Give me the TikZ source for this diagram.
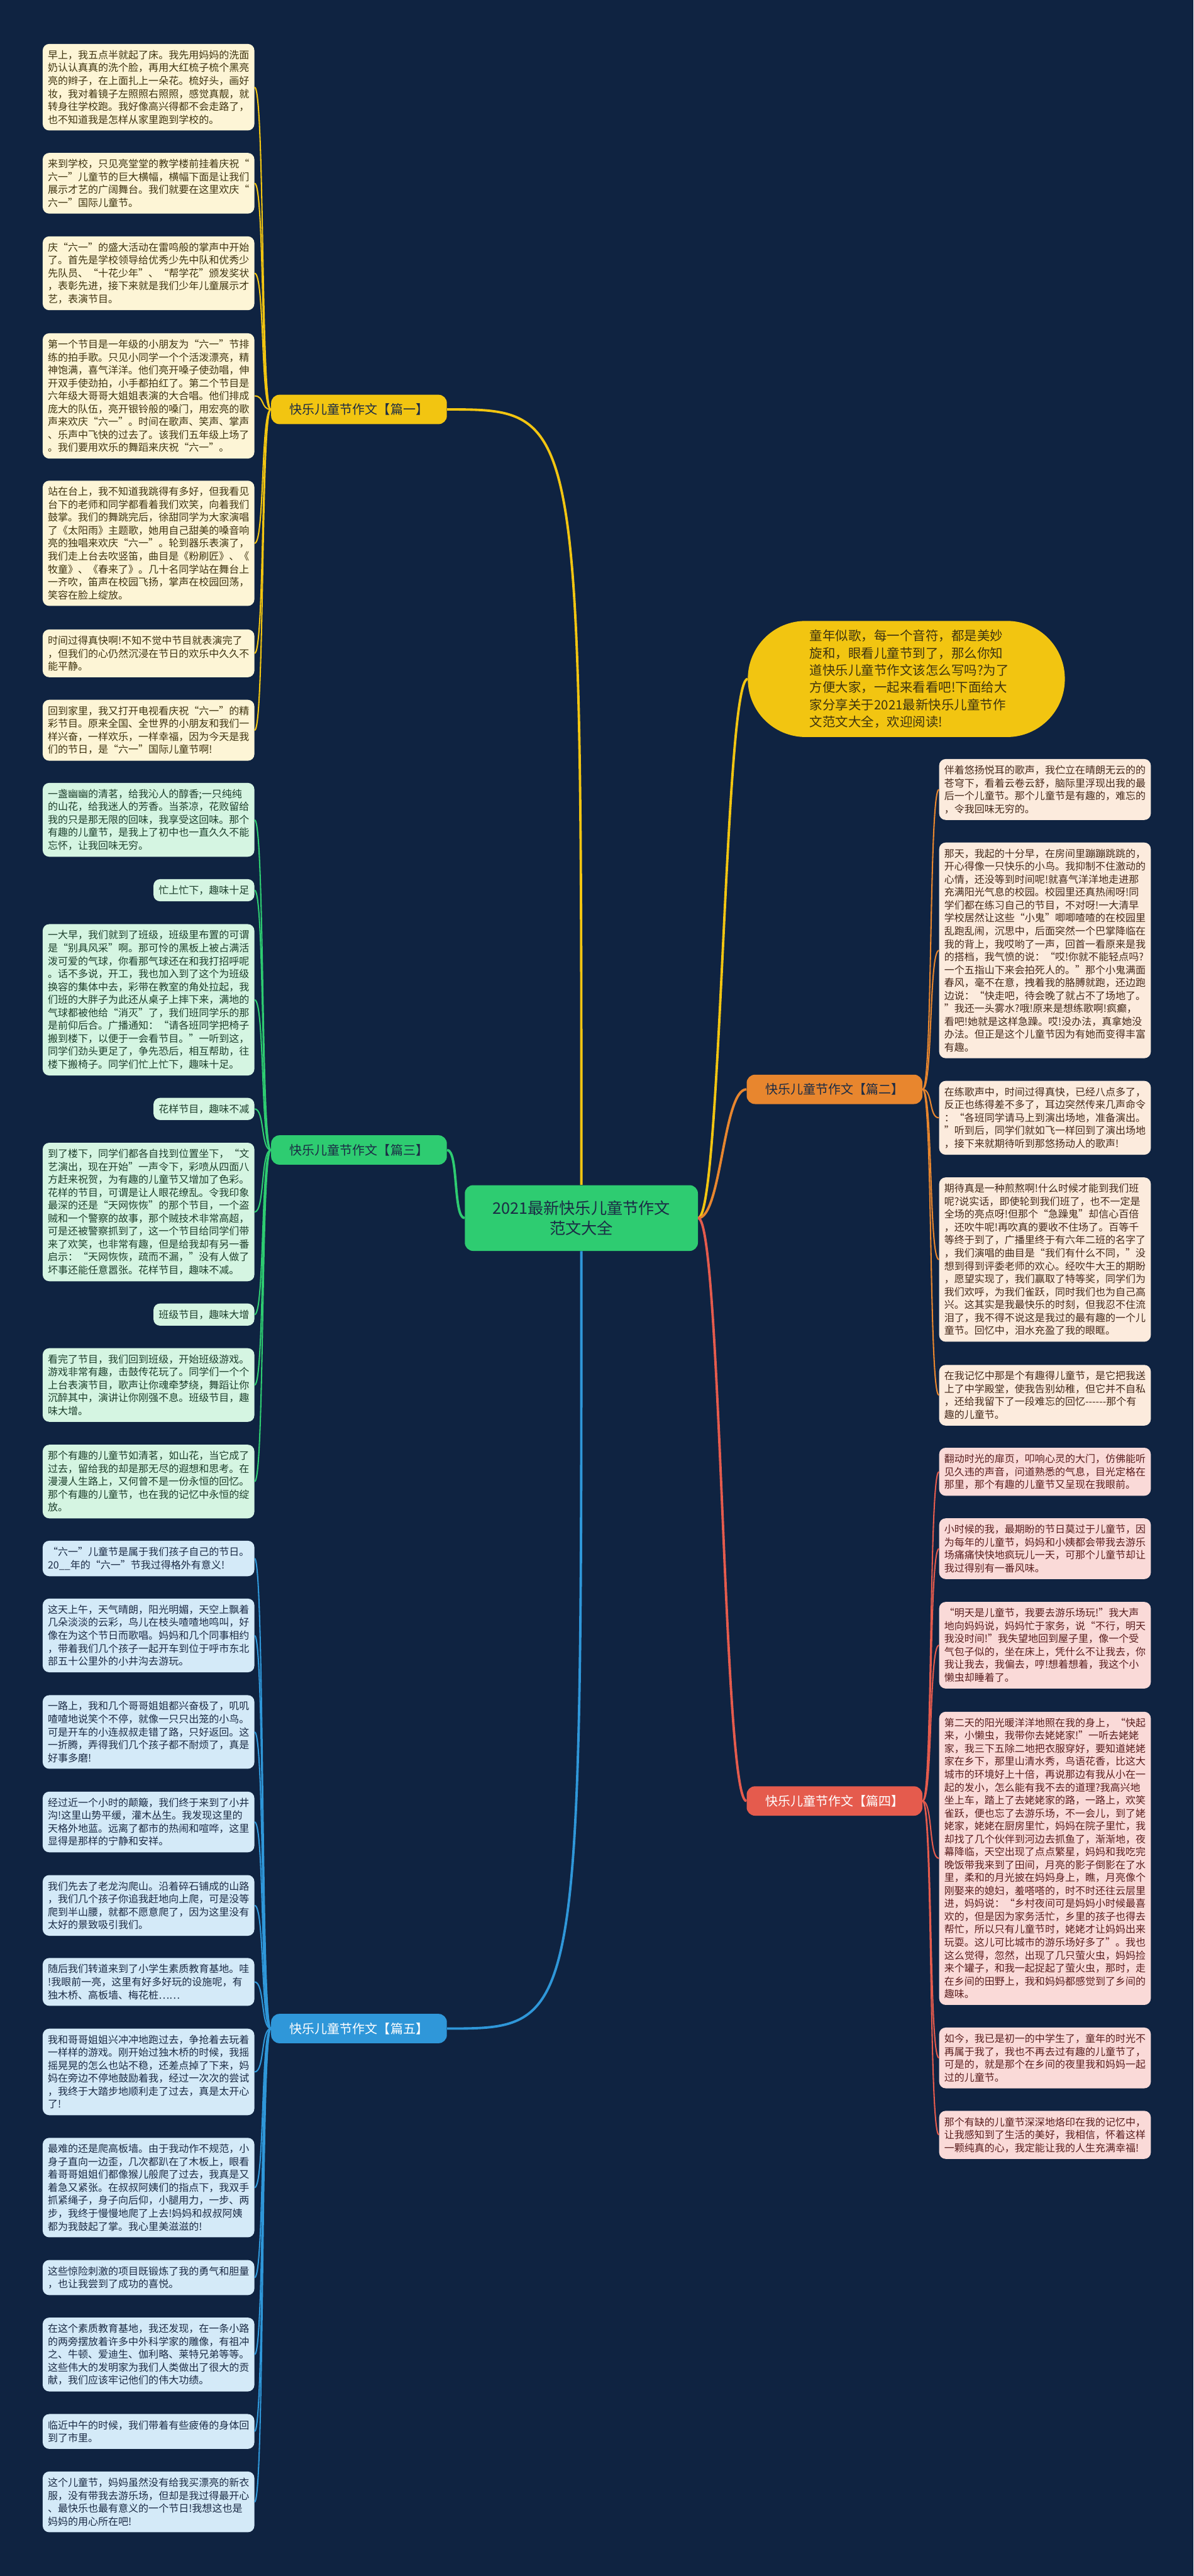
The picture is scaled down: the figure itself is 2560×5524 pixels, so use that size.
\documentclass[tikz,border=0pt]{standalone}
\usepackage{fontspec}
\setmainfont{Noto Sans CJK SC}
\usetikzlibrary{positioning}
\definecolor{navy}{HTML}{0F2341}
\definecolor{cyel}{HTML}{F2C511}
\definecolor{corg}{HTML}{E8862E}
\definecolor{cgrn}{HTML}{2ECC71}
\definecolor{cred}{HTML}{E55B4D}
\definecolor{cblu}{HTML}{2F97D9}
\definecolor{fyel}{HTML}{FDF5D6}
\definecolor{forg}{HTML}{FCEBDD}
\definecolor{fgrn}{HTML}{D5F5E2}
\definecolor{fred}{HTML}{FADAD8}
\definecolor{fblu}{HTML}{D4EAF8}
\definecolor{tyel}{HTML}{3F3410}
\definecolor{torg}{HTML}{45291A}
\definecolor{tgrn}{HTML}{1D3F2C}
\definecolor{tred}{HTML}{5A1E1E}
\definecolor{tblu}{HTML}{1B2B45}
\newcommand\notefont{\fontsize{10.8pt}{13.85pt}\selectfont}
\newcommand\tagfont{\fontsize{13.5pt}{16pt}\selectfont}
\newcommand\hubfont{\fontsize{17pt}{22pt}\selectfont}
\newcommand\blurbfont{\fontsize{13.8pt}{18.5pt}\selectfont}
\tikzset{
  leaf/.style={rounded corners=7pt, text width=216pt, align=left, inner xsep=5.5pt, inner ysep=6.75pt, font=\notefont},
  stub/.style={rounded corners=7pt, inner xsep=5.5pt, inner ysep=6.75pt, font=\notefont},
  yelleaf/.style={leaf, fill=fyel, text=tyel, anchor=east},
  grnleaf/.style={leaf, fill=fgrn, text=tgrn, anchor=east},
  bluleaf/.style={leaf, fill=fblu, text=tblu, anchor=east},
  orgleaf/.style={leaf, fill=forg, text=torg, anchor=west},
  redleaf/.style={leaf, fill=fred, text=tred, anchor=west},
  branchtag/.style={rounded corners=9pt, minimum width=188.5pt, minimum height=31.5pt, inner sep=0pt, font=\tagfont},
  rootbox/.style={rounded corners=9pt, fill=cgrn, text=tblu, minimum width=250pt, minimum height=70.5pt, align=center, font=\hubfont},
  blurb/.style={rounded corners=62pt, fill=cyel, text=tyel, minimum width=340pt, minimum height=124.5pt, text width=207pt, align=left, font=\blurbfont},
  twig/.style={line width=1.4pt},
  bough/.style={line width=2.6pt},
}
\begin{document}
\begin{tikzpicture}[x=0.5pt,y=-0.5pt]
\fill[navy] (0,0) rectangle (2560,5524);
% centre, intro and the five branch tags
\node[rootbox] (hub) at (1247,2612) {2021最新快乐儿童节作文\\范文大全};
\node[blurb] (intro) at (1944,1456) {童年似歌，每一个音符，都是美妙\\旋和，眼看儿童节到了，那么你知\\道快乐儿童节作文该怎么写吗?为了\\方便大家，一起来看看吧!下面给大\\家分享关于2021最新快乐儿童节作\\文范文大全，欢迎阅读!};
\node[branchtag, fill=cyel, text=tblu] (t1) at (770,878) {快乐儿童节作文【篇一】};
\node[branchtag, fill=corg, text=tblu] (t2) at (1790,2336) {快乐儿童节作文【篇二】};
\node[branchtag, fill=cgrn, text=tblu] (t3) at (770,2466) {快乐儿童节作文【篇三】};
\node[branchtag, fill=cred, text=white] (t4) at (1790,3862) {快乐儿童节作文【篇四】};
\node[branchtag, fill=cblu, text=white] (t5) at (770,4350) {快乐儿童节作文【篇五】};

% 篇一
\node[yelleaf] (y1) at (546,187) {早上，我五点半就起了床。我先用妈妈的洗面\\奶认认真真的洗个脸，再用大红梳子梳个黑亮\\亮的辫子，在上面扎上一朵花。梳好头，画好\\妆，我对着镜子左照照右照照，感觉真靓，就\\转身往学校跑。我好像高兴得都不会走路了，\\也不知道我是怎样从家里跑到学校的。};
\node[yelleaf] (y2) at (546,393) {来到学校，只见亮堂堂的教学楼前挂着庆祝“\\六一”儿童节的巨大横幅，横幅下面是让我们\\展示才艺的广阔舞台。我们就要在这里欢庆“\\六一”国际儿童节。};
\node[yelleaf] (y3) at (546,586) {庆“六一”的盛大活动在雷鸣般的掌声中开始\\了。首先是学校领导给优秀少先中队和优秀少\\先队员、“十花少年”、“帮学花”颁发奖状\\，表彰先进，接下来就是我们少年儿童展示才\\艺，表演节目。};
\node[yelleaf] (y4) at (546,849) {第一个节目是一年级的小朋友为“六一”节排\\练的拍手歌。只见小同学一个个活泼漂亮，精\\神饱满，喜气洋洋。他们亮开嗓子使劲唱，伸\\开双手使劲拍，小手都拍红了。第二个节目是\\六年级大哥哥大姐姐表演的大合唱。他们排成\\庞大的队伍，亮开银铃般的嗓门，用宏亮的歌\\声来欢庆“六一”。时间在歌声、笑声、掌声\\、乐声中飞快的过去了。该我们五年级上场了\\。我们要用欢乐的舞蹈来庆祝“六一”。};
\node[yelleaf] (y5) at (546,1165) {站在台上，我不知道我跳得有多好，但我看见\\台下的老师和同学都看着我们欢笑，向着我们\\鼓掌。我们的舞跳完后，徐甜同学为大家演唱\\了《太阳雨》主题歌，她用自己甜美的嗓音响\\亮的独唱来欢庆“六一”。轮到器乐表演了，\\我们走上台去吹竖笛，曲目是《粉刷匠》、《\\牧童》、《春来了》。几十名同学站在舞台上\\一齐吹，笛声在校园飞扬，掌声在校园回荡，\\笑容在脸上绽放。};
\node[yelleaf] (y6) at (546,1401) {时间过得真快啊!不知不觉中节目就表演完了\\，但我们的心仍然沉浸在节日的欢乐中久久不\\能平静。};
\node[yelleaf] (y7) at (546,1566) {回到家里，我又打开电视看庆祝“六一”的精\\彩节目。原来全国、全世界的小朋友和我们一\\样兴奋，一样欢乐，一样幸福，因为今天是我\\们的节日，是“六一”国际儿童节啊!};

% 篇三
\node[grnleaf] (g1) at (546,1758) {一盏幽幽的清茗，给我沁人的醇香;一只纯纯\\的山花，给我迷人的芳香。当茶凉，花败留给\\我的只是那无限的回味，我享受这回味。那个\\有趣的儿童节，是我上了初中也一直久久不能\\忘怀，让我回味无穷。};
\node[stub, fill=fgrn, text=tgrn, anchor=east] (g2) at (546,1909) {忙上忙下，趣味十足};
\node[grnleaf] (g3) at (546,2144) {一大早，我们就到了班级，班级里布置的可谓\\是“别具风采”啊。那可怜的黑板上被占满活\\泼可爱的气球，你看那气球还在和我打招呼呢\\。话不多说，开工，我也加入到了这个为班级\\换容的集体中去，彩带在教室的角处拉起，我\\们班的大胖子为此还从桌子上摔下来，满地的\\气球都被他给“消灭”了，我们班同学乐的那\\是前仰后合。广播通知：“请各班同学把椅子\\搬到楼下，以便于一会看节目。”一听到这，\\同学们劲头更足了，争先恐后，相互帮助，往\\楼下搬椅子。同学们忙上忙下，趣味十足。};
\node[stub, fill=fgrn, text=tgrn, anchor=east] (g4) at (546,2378) {花样节目，趣味不减};
\node[grnleaf] (g5) at (546,2599) {到了楼下，同学们都各自找到位置坐下，“文\\艺演出，现在开始”一声令下，彩喷从四面八\\方赶来祝贺，为有趣的儿童节又增加了色彩。\\花样的节目，可谓是让人眼花缭乱。令我印象\\最深的还是“天网恢恢”的那个节目，一个盗\\贼和一个警察的故事，那个贼技术非常高超，\\可是还被警察抓到了，这一个节目给同学们带\\来了欢笑，也非常有趣，但是给我却有另一番\\启示：“天网恢恢，疏而不漏，”没有人做了\\坏事还能任意嚣张。花样节目，趣味不减。};
\node[stub, fill=fgrn, text=tgrn, anchor=east] (g6) at (546,2819) {班级节目，趣味大增};
\node[grnleaf] (g7) at (546,2970) {看完了节目，我们回到班级，开始班级游戏。\\游戏非常有趣，击鼓传花玩了。同学们一个个\\上台表演节目，歌声让你魂牵梦绕，舞蹈让你\\沉醉其中，演讲让你刚强不息。班级节目，趣\\味大增。};
\node[grnleaf] (g8) at (546,3177) {那个有趣的儿童节如清茗，如山花，当它成了\\过去，留给我的却是那无尽的遐想和思考。在\\漫漫人生路上，又何曾不是一份永恒的回忆。\\那个有趣的儿童节，也在我的记忆中永恒的绽\\放。};

% 篇五
\node[bluleaf] (b1) at (546,3342) {“六一”儿童节是属于我们孩子自己的节日。\\20\_\_年的“六一”节我过得格外有意义!};
\node[bluleaf] (b2) at (546,3507) {这天上午，天气晴朗，阳光明媚，天空上飘着\\几朵淡淡的云彩，鸟儿在枝头喳喳地鸣叫，好\\像在为这个节日而歌唱。妈妈和几个同事相约\\，带着我们几个孩子一起开车到位于呼市东北\\部五十公里外的小井沟去游玩。};
\node[bluleaf] (b3) at (546,3714) {一路上，我和几个哥哥姐姐都兴奋极了，叽叽\\喳喳地说笑个不停，就像一只只出笼的小鸟。\\可是开车的小连叔叔走错了路，只好返回。这\\一折腾，弄得我们几个孩子都不耐烦了，真是\\好事多磨!};
\node[bluleaf] (b4) at (546,3907) {经过近一个小时的颠簸，我们终于来到了小井\\沟!这里山势平缓，灌木丛生。我发现这里的\\天格外地蓝。远离了都市的热闹和喧哗，这里\\显得是那样的宁静和安祥。};
\node[bluleaf] (b5) at (546,4086) {我们先去了老龙沟爬山。沿着碎石铺成的山路\\，我们几个孩子你追我赶地向上爬，可是没等\\爬到半山腰，就都不愿意爬了，因为这里没有\\太好的景致吸引我们。};
\node[bluleaf] (b6) at (546,4250) {随后我们转道来到了小学生素质教育基地。哇\\!我眼前一亮，这里有好多好玩的设施呢，有\\独木桥、高板墙、梅花桩……};
\node[bluleaf] (b7) at (546,4443) {我和哥哥姐姐兴冲冲地跑过去，争抢着去玩着\\一样样的游戏。刚开始过独木桥的时候，我摇\\摇晃晃的怎么也站不稳，还差点掉了下来，妈\\妈在旁边不停地鼓励着我，经过一次次的尝试\\，我终于大踏步地顺利走了过去，真是太开心\\了!};
\node[bluleaf] (b8) at (546,4691) {最难的还是爬高板墙。由于我动作不规范，小\\身子直向一边歪，几次都趴在了木板上，眼看\\着哥哥姐姐们都像猴儿般爬了过去，我真是又\\着急又紧张。在叔叔阿姨们的指点下，我双手\\抓紧绳子，身子向后仰，小腿用力，一步、两\\步，我终于慢慢地爬了上去!妈妈和叔叔阿姨\\都为我鼓起了掌。我心里美滋滋的!};
\node[bluleaf] (b9) at (546,4884) {这些惊险刺激的项目既锻炼了我的勇气和胆量\\，也让我尝到了成功的喜悦。};
\node[bluleaf] (b10) at (546,5049) {在这个素质教育基地，我还发现，在一条小路\\的两旁摆放着许多中外科学家的雕像，有祖冲\\之、牛顿、爱迪生、伽利略、莱特兄弟等等。\\这些伟大的发明家为我们人类做出了很大的贡\\献，我们应该牢记他们的伟大功绩。};
\node[bluleaf] (b11) at (546,5214) {临近中午的时候，我们带着有些疲倦的身体回\\到了市里。};
\node[bluleaf] (b12) at (546,5365) {这个儿童节，妈妈虽然没有给我买漂亮的新衣\\服，没有带我去游乐场，但却是我过得最开心\\、最快乐也最有意义的一个节日!我想这也是\\妈妈的用心所在吧!};

% 篇二
\node[orgleaf] (o1) at (2014,1693) {伴着悠扬悦耳的歌声，我伫立在晴朗无云的的\\苍穹下，看着云卷云舒，脑际里浮现出我的最\\后一个儿童节。那个儿童节是有趣的，难忘的\\，令我回味无穷的。};
\node[orgleaf] (o2) at (2014,2038) {那天，我起的十分早，在房间里蹦蹦跳跳的，\\开心得像一只快乐的小鸟。我抑制不住激动的\\心情，还没等到时间呢!就喜气洋洋地走进那\\充满阳光气息的校园。校园里还真热闹呀!同\\学们都在练习自己的节目，不对呀!一大清早\\学校居然让这些“小鬼”唧唧喳喳的在校园里\\乱跑乱闹，沉思中，后面突然一个巴掌降临在\\我的背上，我哎哟了一声，回首一看原来是我\\的搭档，我气愤的说：“哎!你就不能轻点吗?\\一个五指山下来会拍死人的。”那个小鬼满面\\春风，毫不在意，拽着我的胳膊就跑，还边跑\\边说：“快走吧，待会晚了就占不了场地了。\\”我还一头雾水?哦!原来是想练歌啊!疯癫，\\看吧!她就是这样急躁。哎!没办法，真拿她没\\办法。但正是这个儿童节因为有她而变得丰富\\有趣。};
\node[orgleaf] (o3) at (2014,2397) {在练歌声中，时间过得真快，已经八点多了，\\反正也练得差不多了，耳边突然传来几声命令\\：“各班同学请马上到演出场地，准备演出。\\”听到后，同学们就如飞一样回到了演出场地\\，接下来就期待听到那悠扬动人的歌声!};
\node[orgleaf] (o4) at (2014,2701) {期待真是一种煎熬啊!什么时候才能到我们班\\呢?说实话，即使轮到我们班了，也不一定是\\全场的亮点呀!但那个“急躁鬼”却信心百倍\\，还吹牛呢!再吹真的要收不住场了。百等千\\等终于到了，广播里终于有六年二班的名字了\\，我们演唱的曲目是“我们有什么不同，”没\\想到得到评委老师的欢心。经吹牛大王的期盼\\，愿望实现了，我们赢取了特等奖，同学们为\\我们欢呼，为我们雀跃，同时我们也为自己高\\兴。这其实是我最快乐的时刻，但我忍不住流\\泪了，我不得不说这是我过的最有趣的一个儿\\童节。回忆中，泪水充盈了我的眼眶。};
\node[orgleaf] (o5) at (2014,2992) {在我记忆中那是个有趣得儿童节，是它把我送\\上了中学殿堂，使我告别幼稚，但它并不自私\\，还给我留下了一段难忘的回忆-{}-{}-{}-{}-{}-那个有\\趣的儿童节。};

% 篇四
\node[redleaf] (r1) at (2014,3156) {翻动时光的扉页，叩响心灵的大门，仿佛能听\\见久违的声音，问道熟悉的气息，目光定格在\\那里，那个有趣的儿童节又呈现在我眼前。};
\node[redleaf] (r2) at (2014,3321) {小时候的我，最期盼的节日莫过于儿童节，因\\为每年的儿童节，妈妈和小姨都会带我去游乐\\场痛痛快快地疯玩儿一天，可那个儿童节却让\\我过得别有一番风味。};
\node[redleaf] (r3) at (2014,3528) {“明天是儿童节，我要去游乐场玩!”我大声\\地向妈妈说，妈妈忙于家务，说“不行，明天\\我没时间!”我失望地回到屋子里，像一个受\\气包子似的，坐在床上，凭什么不让我去，你\\我让我去，我偏去，哼!想着想着，我这个小\\懒虫却睡着了。};
\node[redleaf] (r4) at (2014,3985) {第二天的阳光暖洋洋地照在我的身上，“快起\\来，小懒虫，我带你去姥姥家!”一听去姥姥\\家，我三下五除二地把衣服穿好，要知道姥姥\\家在乡下，那里山清水秀，鸟语花香，比这大\\城市的环境好上十倍，再说那边有我从小在一\\起的发小，怎么能有我不去的道理?我高兴地\\坐上车，踏上了去姥姥家的路，一路上，欢笑\\雀跃，便也忘了去游乐场，不一会儿，到了姥\\姥家，姥姥在厨房里忙，妈妈在院子里忙，我\\却找了几个伙伴到河边去抓鱼了，渐渐地，夜\\幕降临，天空出现了点点繁星，妈妈和我吃完\\晚饭带我来到了田间，月亮的影子倒影在了水\\里，柔和的月光披在妈妈身上，瞧，月亮像个\\刚娶来的媳妇，羞嗒嗒的，时不时还往云层里\\进，妈妈说：“乡村夜间可是妈妈小时候最喜\\欢的，但是因为家务活忙，乡里的孩子也得去\\帮忙，所以只有儿童节时，姥姥才让妈妈出来\\玩耍。这儿可比城市的游乐场好多了”。我也\\这么觉得，忽然，出现了几只萤火虫，妈妈捡\\来个罐子，和我一起捉起了萤火虫，那时，走\\在乡间的田野上，我和妈妈都感觉到了乡间的\\趣味。};
\node[redleaf] (r5) at (2014,4413) {如今，我已是初一的中学生了，童年的时光不\\再属于我了，我也不再去过有趣的儿童节了，\\可是的，就是那个在乡间的夜里我和妈妈一起\\过的儿童节。};
\node[redleaf] (r6) at (2014,4578) {那个有缺的儿童节深深地烙印在我的记忆中，\\让我感知到了生活的美好，我相信，怀着这样\\一颗纯真的心，我定能让我的人生充满幸福!};

% connectors
\draw[bough, cyel] (hub.north) .. controls (hub.north |- t1) .. (t1.east);
\draw[bough, cgrn] (hub.west) .. controls +(-25,0) and +(25,0) .. (t3.east);
\draw[bough, cblu] (hub.south) .. controls (hub.south |- t5) .. (t5.east);
\draw[bough, cyel] (hub.east) .. controls +(50,0) and +(-50,0) .. (intro.west);
\draw[bough, corg] (hub.east) .. controls +(50,0) and +(-50,0) .. (t2.west);
\draw[bough, cred] (hub.east) .. controls +(50,0) and +(-50,0) .. (t4.west);
\foreach \i in {1,...,7} \draw[twig, cyel] (t1.west) .. controls +(-22,0) and +(22,0) .. (y\i.east);
\foreach \i in {1,...,8} \draw[twig, cgrn] (t3.west) .. controls +(-22,0) and +(22,0) .. (g\i.east);
\foreach \i in {1,...,12} \draw[twig, cblu] (t5.west) .. controls +(-22,0) and +(22,0) .. (b\i.east);
\foreach \i in {1,...,5} \draw[twig, corg] (t2.east) .. controls +(22,0) and +(-22,0) .. (o\i.west);
\foreach \i in {1,...,6} \draw[twig, cred] (t4.east) .. controls +(22,0) and +(-22,0) .. (r\i.west);
\end{tikzpicture}
\end{document}
